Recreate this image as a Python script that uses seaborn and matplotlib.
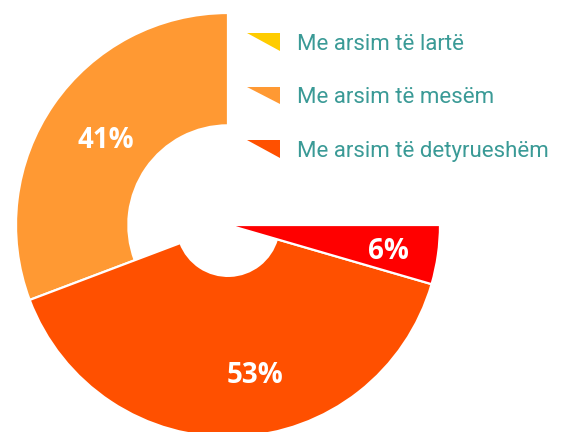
# education donut chart (three-quarter layout)
import numpy as np
import matplotlib
matplotlib.use("Agg")
import matplotlib.pyplot as plt
from matplotlib.patches import Wedge, Patch, Polygon
from matplotlib.legend_handler import HandlerPatch
import seaborn as sns

# data
legend_labels = ["Me arsim të lartë", "Me arsim të mesëm", "Me arsim të detyrueshëm"]
legend_colors = ["#FFCC00", "#FF9933", "#FF5000"]
shares = [41, 53, 6]                    # percent per visible slice
slice_colors = ["#FF9933", "#FF5000", "#FF0000"]
inner_radius = [0.47, 0.24, 0.0]        # hole size per slice (outer radius = 1)
label_radius = [0.70, 0.72, 0.765]
label_shift = [0, 8, -1.2]              # degrees

sns.set_style("white")

fig = plt.figure(figsize=(5.64, 4.32), dpi=100)
ax = fig.add_axes([0, 0, 1, 1])

sweep = 270.0    # slices fill three quarters of the circle
start = 90.0
angles = np.cumsum([0] + shares) / 100.0 * sweep + start

for i, share in enumerate(shares):
    t1, t2 = angles[i], angles[i + 1]
    w = Wedge((0, 0), 1.0, t1, t2, width=1.0 - inner_radius[i],
              facecolor=slice_colors[i], edgecolor="white", linewidth=1.6)
    ax.add_patch(w)
    mid = np.deg2rad((t1 + t2) / 2 + label_shift[i])
    ax.text(label_radius[i] * np.cos(mid), label_radius[i] * np.sin(mid),
            f"{share}%", color="white", fontsize=20, fontweight="bold",
            family="Open Sans", ha="center", va="center")

# center at (228, 225) px, radius 212 px
ax.set_xlim(-228 / 212, (564 - 228) / 212)
ax.set_ylim(-(432 - 225) / 212, 225 / 212)
ax.set_aspect("equal")
ax.axis("off")


class TriangleHandler(HandlerPatch):
    def create_artists(self, legend, orig_handle, xdescent, ydescent,
                       width, height, fontsize, trans):
        x0, y0 = -xdescent, -ydescent
        tri = Polygon([[x0, y0 + height], [x0 + width, y0 + height], [x0 + width, y0]],
                      closed=True, facecolor=orig_handle.get_facecolor(),
                      edgecolor="none", transform=trans)
        return [tri]


handles = [Patch(facecolor=c) for c in legend_colors]
leg = ax.legend(handles, legend_labels, loc="upper left",
                bbox_to_anchor=(247 / 564, 1 - 33 / 432), bbox_transform=fig.transFigure,
                frameon=False, borderpad=0, borderaxespad=0,
                prop={"family": "Roboto", "size": 16},
                handlelength=1.49, handleheight=0.86, handletextpad=0.77,
                labelspacing=1.44, handler_map={Patch: TriangleHandler()})
for t in leg.get_texts():
    t.set_color("#3A9A96")

fig.savefig("out.png", dpi=100)
